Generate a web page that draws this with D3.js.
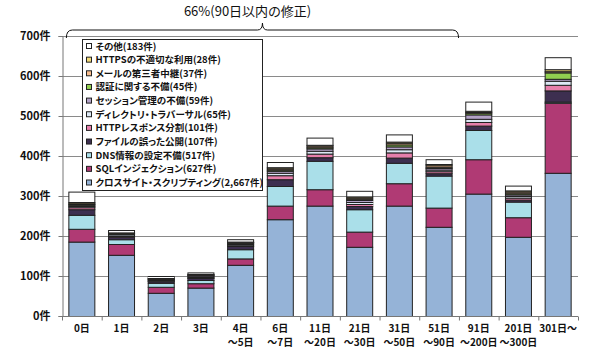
<!DOCTYPE html>
<html>
<head>
<meta charset="utf-8">
<script src="https://cdn.jsdelivr.net/npm/d3@7"></script>
<style>
  body { margin: 0; background: #fff; }
  svg text { font-family: "Noto Sans CJK JP", "Noto Sans", sans-serif; font-feature-settings: "palt"; }
</style>
</head>
<body>
<div id="chart"></div>
<script>
// categories (days until fix)
let categories = ["0日", "1日", "2日", "3日", "4日\n～5日", "6日\n～7日", "11日\n～20日",
    "21日\n～30日", "31日\n～50日", "51日\n～90日", "91日\n～200日", "201日\n～300日", "301日～"];

// series values, bottom of the stack first
let xss       = [186, 153, 58, 71, 128, 242, 276, 173, 276, 223, 306, 198, 358];
let sqli      = [32, 27, 15, 11, 16, 34, 41, 38, 56, 48, 86, 49, 175];
let dns       = [35, 12, 10, 8, 23, 49, 71, 56, 51, 80, 73, 39, 3];
let fileDisc  = [14, 6, 4, 5, 8, 17, 9, 8, 13, 6, 11, 5, 28];
let httpSplit = [5, 2, 1, 2, 2, 10, 9, 5, 13, 5, 9, 5, 14];
let dirTrav   = [3, 4, 2, 2, 3, 6, 7, 5, 8, 4, 8, 4, 10];
let session   = [3, 2, 2, 3, 3, 5, 6, 5, 7, 4, 11, 4, 5];
let auth      = [2, 1, 1, 1, 1, 3, 3, 3, 5, 3, 4, 3, 16];
let mail      = [2, 1, 1, 1, 1, 3, 4, 3, 4, 4, 2, 4, 3];
let https     = [3, 1, 1, 1, 1, 3, 2, 3, 3, 3, 3, 3, 5];
let other     = [26, 6, 5, 4, 6, 13, 18, 14, 18, 12, 23, 12, 30];

let seriesNames = ["クロスサイト・スクリプティング(2,667件)", "SQLインジェクション(627件)", "DNS情報の設定不備(517件)",
    "ファイルの誤った公開(107件)", "HTTPレスポンス分割(101件)", "ディレクトリ・トラバーサル(65件)",
    "セッション管理の不備(59件)", "認証に関する不備(45件)", "メールの第三者中継(37件)",
    "HTTPSの不適切な利用(28件)", "その他(183件)"];
let seriesValues = [xss, sqli, dns, fileDisc, httpSplit, dirTrav, session, auth, mail, https, other];
let seriesColors = ["#95b3d7", "#b03a74", "#aadfe9", "#3d2f50", "#e67fab", "#dde9f5",
    "#b3a2c7", "#92d050", "#f9be8f", "#f2da78", "#ffffff"];

let yTicks = [0, 100, 200, 300, 400, 500, 600, 700];
let annotation = "66%(90日以内の修正)";
let annotationRange = ["0日", "51日\n～90日"];

let width = 600, height = 358;
let margin = {top: 36, right: 22, bottom: 42, left: 62};

let svg = d3.select("#chart")
    .append("svg")
        .attr("width", width)
        .attr("height", height);

let x = d3.scaleBand()
    .domain(categories)
    .range([margin.left, width - margin.right])
    .paddingInner(0.32)
    .paddingOuter(0.16);

let y = d3.scaleLinear()
    .domain([0, 700])
    .range([height - margin.bottom, margin.top]);

// gridlines
svg.append("g")
    .selectAll("line")
    .data(yTicks.slice(1))
    .join("line")
        .attr("x1", margin.left)
        .attr("x2", width - margin.right)
        .attr("y1", d => y(d) + 0.5)
        .attr("y2", d => y(d) + 0.5)
        .attr("stroke", "#8a8a8a")
        .attr("stroke-width", 1);

// y axis
let yAxis = svg.append("g")
    .attr("transform", `translate(${margin.left + 0.5},0)`)
    .call(d3.axisLeft(y).tickValues(yTicks).tickSize(4).tickPadding(8).tickFormat(d => d + "件"));
yAxis.select(".domain").attr("stroke", "#777");
yAxis.selectAll(".tick line").attr("stroke", "#777");
yAxis.selectAll("text")
    .attr("font-size", 11)
    .attr("font-weight", "bold")
    .attr("fill", "#111");

// stacked bars
let table = categories.map((c, i) => {
    let row = {cat: c};
    seriesNames.forEach((s, j) => row[s] = seriesValues[j][i]);
    return row;
});
let stacked = d3.stack().keys(seriesNames)(table);

svg.append("g")
    .selectAll("g")
    .data(stacked)
    .join("g")
        .attr("fill", (d, i) => seriesColors[i])
    .selectAll("rect")
    .data(d => d)
    .join("rect")
        .attr("x", d => x(d.data.cat) + 0.5)
        .attr("y", d => y(d[1]) + 0.5)
        .attr("width", x.bandwidth() - 1)
        .attr("height", d => Math.max(0, y(d[0]) - y(d[1])))
        .attr("stroke", "#222")
        .attr("stroke-width", 1);

// x axis
let x0 = height - margin.bottom + 0.5;
svg.append("line")
    .attr("x1", margin.left)
    .attr("x2", width - margin.right)
    .attr("y1", x0)
    .attr("y2", x0)
    .attr("stroke", "#777");

let boundaries = categories.map(c => x(c) - x.step() * x.paddingInner() / 2)
    .concat([width - margin.right]);
svg.append("g")
    .selectAll("line")
    .data(boundaries)
    .join("line")
        .attr("x1", d => d + 0.5)
        .attr("x2", d => d + 0.5)
        .attr("y1", x0)
        .attr("y2", x0 + 4)
        .attr("stroke", "#777");

let xLabels = svg.append("g")
    .selectAll("text")
    .data(categories)
    .join("text")
        .attr("x", d => x(d) + x.bandwidth() / 2)
        .attr("y", height - margin.bottom + 16)
        .attr("text-anchor", "middle")
        .attr("font-size", 10)
        .attr("font-weight", "bold")
        .attr("fill", "#111");
xLabels.selectAll("tspan")
    .data(d => d.split("\n"))
    .join("tspan")
        .attr("x", function() { return this.parentNode.getAttribute("x"); })
        .attr("dy", (d, i) => i ? 14 : 0)
        .text(d => d);

// legend
let legend = svg.append("g").attr("transform", "translate(82.5,39.5)");
legend.append("rect")
    .attr("width", 180)
    .attr("height", 151)
    .attr("fill", "#fff")
    .attr("stroke", "#222");
let legendItems = legend.selectAll("g")
    .data(seriesNames.map((s, i) => ({name: s, color: seriesColors[i]})).reverse())
    .join("g")
        .attr("transform", (d, i) => `translate(4,${6 + i * 13.65})`);
legendItems.append("rect")
    .attr("width", 5)
    .attr("height", 5)
    .attr("y", -2)
    .attr("fill", d => d.color)
    .attr("stroke", "#222");
legendItems.append("text")
    .attr("x", 9)
    .attr("y", 4)
    .attr("font-size", 9.5)
    .attr("font-weight", "bold")
    .attr("fill", "#111")
    .text(d => d.name);

// brace annotation over the first ten categories
let bx0 = x(annotationRange[0]) - 2;
let bx1 = x(annotationRange[1]) + x.bandwidth() + 6;
let bm = (bx0 + bx1) / 2;
let by = 30;
svg.append("path")
    .attr("d", `M${bx0},${by + 8} Q${bx0},${by} ${bx0 + 6},${by} L${bm - 5},${by} Q${bm},${by} ${bm},${by - 7}`
        + ` Q${bm},${by} ${bm + 5},${by} L${bx1 - 6},${by} Q${bx1},${by} ${bx1},${by + 8}`)
    .attr("fill", "none")
    .attr("stroke", "#111")
    .attr("stroke-width", 1);

svg.append("text")
    .attr("x", bm - 15)
    .attr("y", 16)
    .attr("text-anchor", "middle")
    .attr("font-size", 13)
    .attr("fill", "#111")
    .text(annotation);
</script>
</body>
</html>
